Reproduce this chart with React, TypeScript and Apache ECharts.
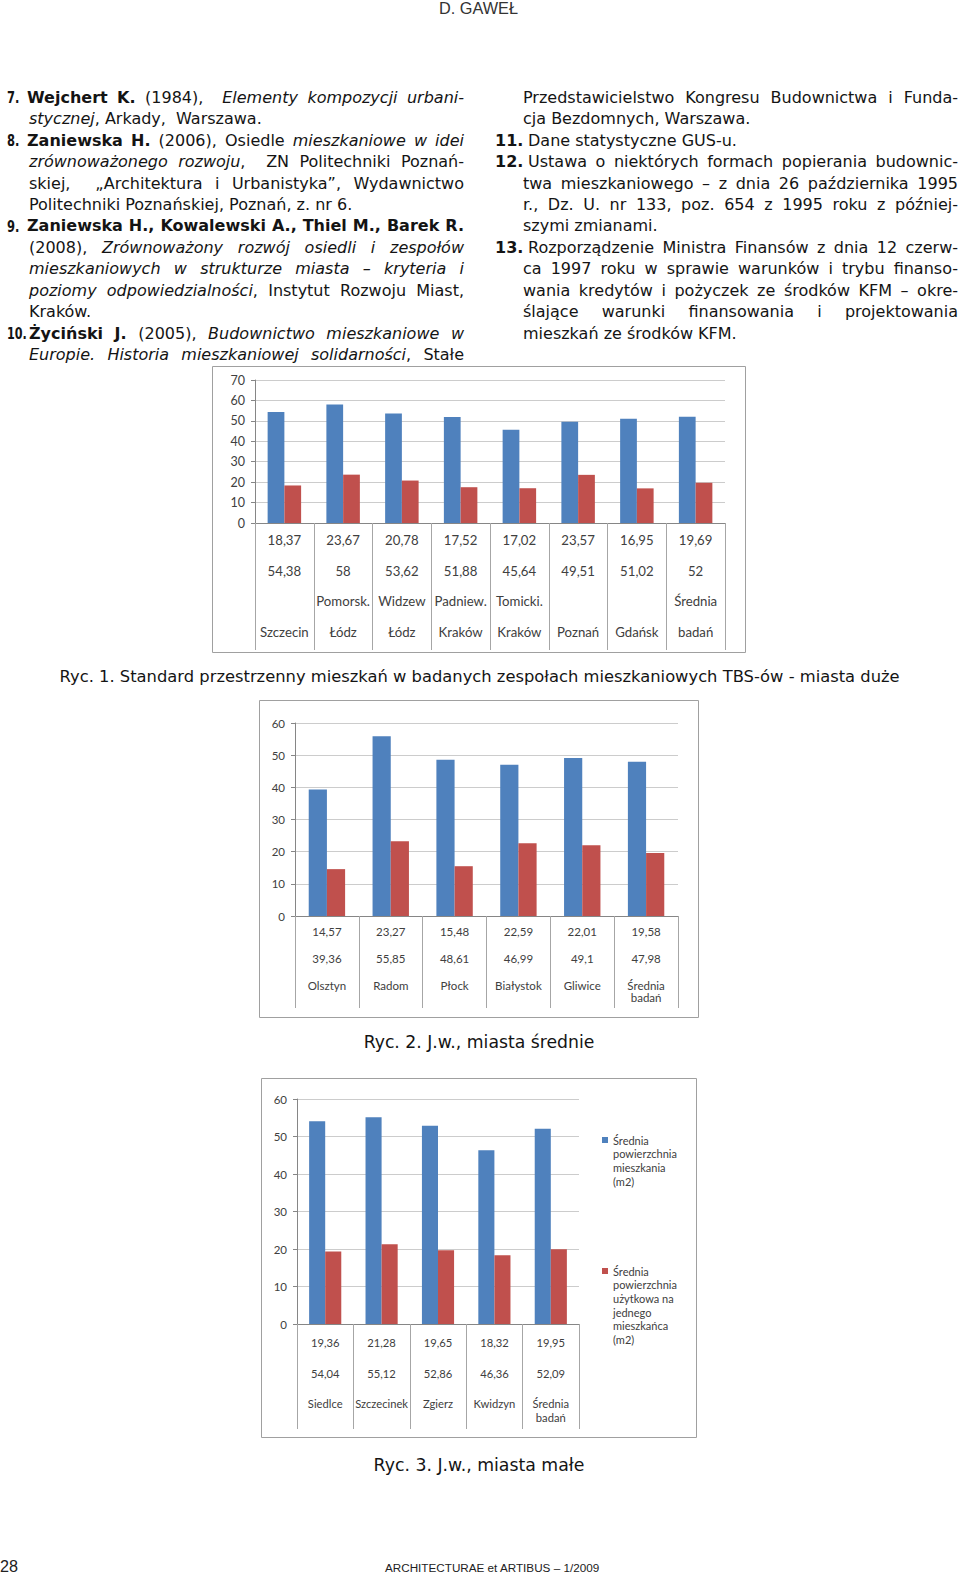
import React, { useEffect, useRef } from 'react';
import * as echarts from 'echarts';

// ---------------- chart data ----------------
const citiesLarge = ['Szczecin', 'Pomorsk.\nŁódz', 'Widzew\nŁódz', 'Padniew.\nKraków', 'Tomicki.\nKraków', 'Poznań', 'Gdańsk', 'Średnia\nbadań'];
const flatAreaLarge = [54.38, 58, 53.62, 51.88, 45.64, 49.51, 51.02, 52];
const perResidentLarge = [18.37, 23.67, 20.78, 17.52, 17.02, 23.57, 16.95, 19.69];

const citiesMedium = ['Olsztyn', 'Radom', 'Płock', 'Białystok', 'Gliwice', 'Średnia\nbadań'];
const flatAreaMedium = [39.36, 55.85, 48.61, 46.99, 49.1, 47.98];
const perResidentMedium = [14.57, 23.27, 15.48, 22.59, 22.01, 19.58];

const citiesSmall = ['Siedlce', 'Szczecinek', 'Zgierz', 'Kwidzyn', 'Średnia\nbadań'];
const flatAreaSmall = [54.04, 55.12, 52.86, 46.36, 52.09];
const perResidentSmall = [19.36, 21.28, 19.65, 18.32, 19.95];

const yMaxLarge = 70;
const yMaxMedium = 60;
const yMaxSmall = 60;
const yStep = 10;

const seriesNames = [
  'Średnia\npowierzchnia\nmieszkania\n(m2)',
  'Średnia\npowierzchnia\nużytkowa na\njednego\nmieszkańca\n(m2)',
];

const captionLarge = 'Ryc. 1. Standard przestrzenny mieszkań w badanych zespołach mieszkaniowych TBS-ów - miasta duże';
const captionMedium = 'Ryc. 2. J.w., miasta średnie';
const captionSmall = 'Ryc. 3. J.w., miasta małe';

// ---------------- page text ----------------
type St = 'n' | 'b' | 'i';
type Seg = [string, St];
type TLine = { x: number; right: number; row: number; j: boolean; segs: Seg[]; num?: [string, number, number] };

const LR = 464;
const RR = 958;
const textLines: TLine[] = [
  { row: 0, x: 27, right: LR, j: true, num: ['7.', 7, 0.72], segs: [['Wejchert K.', 'b'], [' (1984),  ', 'n'], ['Elementy kompozycji urbani-', 'i']] },
  { row: 1, x: 29, right: LR, j: false, segs: [['stycznej', 'i'], [', Arkady,  Warszawa.', 'n']] },
  { row: 2, x: 27, right: LR, j: true, num: ['8.', 7, 0.72], segs: [['Zaniewska H.', 'b'], [' (2006), Osiedle ', 'n'], ['mieszkaniowe w idei', 'i']] },
  { row: 3, x: 29, right: LR, j: true, segs: [['zrównoważonego rozwoju', 'i'], [',  ZN Politechniki Poznań-', 'n']] },
  { row: 4, x: 29, right: LR, j: true, segs: [['skiej,  „Architektura i Urbanistyka”, Wydawnictwo', 'n']] },
  { row: 5, x: 29, right: LR, j: false, segs: [['Politechniki Poznańskiej, Poznań, z. nr 6.', 'n']] },
  { row: 6, x: 27, right: LR, j: true, num: ['9.', 7, 0.72], segs: [['Zaniewska H., Kowalewski A., Thiel M., Barek R.', 'b']] },
  { row: 7, x: 29, right: LR, j: true, segs: [['(2008), ', 'n'], ['Zrównoważony rozwój osiedli i zespołów', 'i']] },
  { row: 8, x: 29, right: LR, j: true, segs: [['mieszkaniowych w strukturze miasta – kryteria i', 'i']] },
  { row: 9, x: 29, right: LR, j: true, segs: [['poziomy odpowiedzialności', 'i'], [', Instytut Rozwoju Miast,', 'n']] },
  { row: 10, x: 29, right: LR, j: false, segs: [['Kraków.', 'n']] },
  { row: 11, x: 29, right: LR, j: true, num: ['10.', 7, 0.7], segs: [['Życiński J.', 'b'], [' (2005), ', 'n'], ['Budownictwo mieszkaniowe w', 'i']] },
  { row: 12, x: 29, right: LR, j: true, segs: [['Europie. Historia mieszkaniowej solidarności', 'i'], [', Stałe', 'n']] },

  { row: 0, x: 523, right: RR, j: true, segs: [['Przedstawicielstwo Kongresu Budownictwa i Funda-', 'n']] },
  { row: 1, x: 523, right: RR, j: false, segs: [['cja Bezdomnych, Warszawa.', 'n']] },
  { row: 2, x: 528, right: RR, j: false, num: ['11.', 495, 1], segs: [['Dane statystyczne GUS-u.', 'n']] },
  { row: 3, x: 528, right: RR, j: true, num: ['12.', 495, 1], segs: [['Ustawa o niektórych formach popierania budownic-', 'n']] },
  { row: 4, x: 523, right: RR, j: true, segs: [['twa mieszkaniowego – z dnia 26 października 1995', 'n']] },
  { row: 5, x: 523, right: RR, j: true, segs: [['r., Dz. U. nr 133, poz. 654 z 1995 roku z później-', 'n']] },
  { row: 6, x: 523, right: RR, j: false, segs: [['szymi zmianami.', 'n']] },
  { row: 7, x: 528, right: RR, j: true, num: ['13.', 495, 1], segs: [['Rozporządzenie Ministra Finansów z dnia 12 czerw-', 'n']] },
  { row: 8, x: 523, right: RR, j: true, segs: [['ca 1997 roku w sprawie warunków i trybu finanso-', 'n']] },
  { row: 9, x: 523, right: RR, j: true, segs: [['wania kredytów i pożyczek ze środków KFM – okre-', 'n']] },
  { row: 10, x: 523, right: RR, j: true, segs: [['ślające warunki finansowania i projektowania', 'n']] },
  { row: 11, x: 523, right: RR, j: false, segs: [['mieszkań ze środków KFM.', 'n']] },
];

const BODY_FONT = '"DejaVu Sans", Verdana, sans-serif';
const NARROW_FONT = '"Liberation Sans Narrow", "Liberation Sans", Arial, sans-serif';
const CHART_FONT = 'Lato, "Open Sans", sans-serif';
const INK = '#141414';

const BLUE = '#4F81BD';
const RED = '#C0504D';
const AXIS = '#868686';
const GRIDC = '#cccccc';
const SEP = '#a6a6a6';
const LBL = '#404040';
const FRAME = '#a0a0a0';

const fmt = (v: number) => String(v).replace('.', ',');

function buildOption() {
  const ctx = document.createElement('canvas').getContext('2d') as CanvasRenderingContext2D;
  const measure = (t: string, st: St, size: number, fam = BODY_FONT) => {
    ctx.font = `${st === 'i' ? 'italic ' : ''}${st === 'b' ? 'bold ' : ''}${size}px ${fam}`;
    return ctx.measureText(t).width;
  };
  const fit = (t: string, w: number, fam: string, st: St = 'n') => (w / measure(t, st, 100, fam)) * 100;

  const graphics: any[] = [];

  // text lines (justified)
  textLines.forEach((ln, li) => {
    const y = 97.4 + 21.43 * ln.row;
    const items: { t: string; st: St; sp: number }[] = [];
    ln.segs.forEach(([txt, st]) => {
      txt.split(/( +)/).forEach((p) => {
        if (p === '') return;
        if (/^ +$/.test(p)) {
          if (items.length) items[items.length - 1].sp += p.length;
        } else items.push({ t: p, st, sp: 0 });
      });
    });
    if (items.length) items[items.length - 1].sp = 0;
    let size = 16;
    const avail = ln.right - ln.x;
    const calc = (s: number) => {
      const ww = items.reduce((a, it) => a + measure(it.t, it.st, s), 0);
      const ns = items.reduce((a, it) => a + it.sp, 0);
      return { ww, ns, sw: measure(' ', 'n', s) };
    };
    let m = calc(size);
    if (m.ww + m.ns * m.sw > avail) {
      size = size * avail / (m.ww + m.ns * m.sw);
      m = calc(size);
    }
    const gap = ln.j && m.ns > 0 ? (avail - m.ww) / m.ns : m.sw;
    const rich: any = {};
    let str = '';
    items.forEach((it, k) => {
      const key = `t${k}`;
      const r: any = {
        fontFamily: BODY_FONT,
        fontSize: size,
        fontWeight: it.st === 'b' ? 'bold' : 'normal',
        fontStyle: it.st === 'i' ? 'italic' : 'normal',
        fill: INK,
      };
      if (it.sp > 0) r.width = measure(it.t, it.st, size) + gap * it.sp;
      rich[key] = r;
      str += `{${key}|${it.t}${it.sp > 0 ? ' ' : ''}}`;
    });
    graphics.push({
      type: 'text', id: `line${li}`, x: ln.x, y, silent: true,
      style: { text: str, rich, fill: INK, fontFamily: BODY_FONT, fontSize: size, align: 'left', verticalAlign: 'middle', textAlign: 'left', textVerticalAlign: 'middle' },
    });
    if (ln.num) {
      graphics.push({
        type: 'text', id: `num${li}`, x: ln.num[1], y, scaleX: ln.num[2], silent: true,
        style: { text: ln.num[0], fill: INK, fontFamily: BODY_FONT, fontSize: 16, fontWeight: 'bold', align: 'left', verticalAlign: 'middle', textAlign: 'left', textVerticalAlign: 'middle' },
      });
    }
  });

  // captions
  const caps: [string, number, number, number][] = [
    [captionLarge, 479.6, 676, 841],
    [captionMedium, 479, 1042.4, 231],
    [captionSmall, 479, 1465, 211],
  ];
  caps.forEach(([t, cx, cy, w], k) => {
    graphics.push({
      type: 'text', id: `cap${k}`, x: cx, y: cy, silent: true,
      style: { text: t, fill: INK, fontFamily: BODY_FONT, fontSize: fit(t, w, BODY_FONT), align: 'center', verticalAlign: 'middle', textAlign: 'center', textVerticalAlign: 'middle' },
    });
  });

  // header & footer
  const header = 'D. GAWEŁ';
  graphics.push({
    type: 'text', id: 'hdr', x: 478.5, y: 7.5, silent: true,
    style: { text: header, fill: '#333', fontFamily: NARROW_FONT, fontSize: fit(header, 79, NARROW_FONT), align: 'center', verticalAlign: 'middle', textAlign: 'center', textVerticalAlign: 'middle' },
  });
  graphics.push({
    type: 'text', id: 'pg', x: 0, y: 1566, silent: true,
    style: { text: '28', fill: '#222', fontFamily: NARROW_FONT, fontSize: fit('28', 18, NARROW_FONT), align: 'left', verticalAlign: 'middle', textAlign: 'left', textVerticalAlign: 'middle' },
  });
  const journal = 'ARCHITECTURAE et ARTIBUS – 1/2009';
  graphics.push({
    type: 'text', id: 'jr', x: 385, y: 1567, silent: true,
    style: { text: journal, fill: '#222', fontFamily: NARROW_FONT, fontSize: fit(journal, 215, NARROW_FONT), align: 'left', verticalAlign: 'middle', textAlign: 'left', textVerticalAlign: 'middle' },
  });

  // chart frames
  const frames = [
    [212.5, 366.5, 533, 286],
    [259.5, 700.5, 439, 317],
    [261.5, 1078.5, 435, 359],
  ];
  frames.forEach(([x, y, w, h], k) => {
    graphics.push({ type: 'rect', id: `frame${k}`, silent: true, z: -10, shape: { x, y, width: w, height: h }, style: { fill: 'none', stroke: FRAME, lineWidth: 1 } });
  });

  const yAxis = (gi: number, max: number, fs: number) => ({
    type: 'value', gridIndex: gi, min: 0, max, interval: yStep,
    axisLine: { show: true, lineStyle: { color: AXIS, width: 1 } },
    axisTick: { show: true, inside: false, length: 4, lineStyle: { color: AXIS } },
    axisLabel: { show: true, margin: 10, fontFamily: CHART_FONT, fontSize: fs, color: LBL },
    splitLine: { show: true, lineStyle: { color: GRIDC, width: 1 } },
  });

  const xBase = (gi: number, data: string[], tickLen: number) => ({
    type: 'category', gridIndex: gi, data,
    axisLine: { show: true, lineStyle: { color: AXIS, width: 1 } },
    axisTick: { show: true, interval: 0, alignWithLabel: false, length: tickLen, lineStyle: { color: SEP } },
    splitLine: { show: false },
  });

  const xLarge = {
    ...xBase(0, citiesLarge, 127),
    axisLabel: {
      interval: 0, margin: 1.6, hideOverlap: false,
      formatter: (val: string, i: number) => {
        const names = val.split('\n');
        const nl = names.length === 1 ? ['\u00a0', names[0]] : names;
        return [fmt(perResidentLarge[i]), fmt(flatAreaLarge[i]), ...nl].map((s) => `{v|${s}}`).join('\n');
      },
      rich: { v: { fontFamily: CHART_FONT, fontSize: 13.2, lineHeight: 30.7, color: LBL } },
    },
  };

  const tableLabel = (pr: number[], fa: number[], fs: number, vlh: number, nlh: number, margin: number) => ({
    interval: 0, margin, hideOverlap: false,
    formatter: (val: string, i: number) =>
      `{v|${fmt(pr[i])}}\n{v|${fmt(fa[i])}}\n{s|\u00a0}\n` + val.split('\n').map((s) => `{n|${s}}`).join('\n'),
    rich: {
      v: { fontFamily: CHART_FONT, fontSize: fs, lineHeight: vlh, color: LBL },
      s: { fontFamily: CHART_FONT, fontSize: 4, lineHeight: 7.5, color: LBL },
      n: { fontFamily: CHART_FONT, fontSize: fs, lineHeight: nlh, color: LBL },
    },
  });

  const xMedium = { ...xBase(1, citiesMedium, 92), axisLabel: tableLabel(perResidentMedium, flatAreaMedium, 11.5, 27, 12, 1.5) };
  const xSmall = { ...xBase(2, citiesSmall, 105), axisLabel: tableLabel(perResidentSmall, flatAreaSmall, 11.2, 31, 14, 2.5) };

  const bar = (name: string, gi: number, data: number[], color: string) => ({
    type: 'bar', name, xAxisIndex: gi, yAxisIndex: gi, data,
    barGap: '0%', barCategoryGap: '43%',
    itemStyle: { color, borderWidth: 0 },
    emphasis: { disabled: true },
    silent: true,
  });

  const iconPath = (h: number) => `path://M0,0H6V6H0Z M5.99,${(h - 0.01).toFixed(2)}H6V${h.toFixed(2)}H5.99Z`;
  const LH = 13.7;
  const legendFor = (name: string, firstLineY: number) => {
    const n = name.split('\n').length;
    const ih = n * LH - LH + 6;
    return {
      show: true, orient: 'vertical', left: 602, top: firstLineY - LH / 2, padding: 0,
      itemWidth: 6, itemHeight: ih, itemGap: 0, selectedMode: false,
      data: [{ name, icon: iconPath(ih) }],
      textStyle: { fontFamily: CHART_FONT, fontSize: 11, color: LBL, lineHeight: LH },
    };
  };

  return {
    animation: false,
    backgroundColor: '#ffffff',
    textStyle: { fontFamily: CHART_FONT },
    tooltip: { show: false },
    grid: [
      { left: 255, top: 380, width: 470, height: 143, containLabel: false },
      { left: 295, top: 723, width: 383, height: 193, containLabel: false },
      { left: 297, top: 1099, width: 282, height: 225, containLabel: false },
    ],
    xAxis: [xLarge, xMedium, xSmall],
    yAxis: [yAxis(0, yMaxLarge, 12.5), yAxis(1, yMaxMedium, 11.5), yAxis(2, yMaxSmall, 11.5)],
    legend: [legendFor(seriesNames[0], 1140), legendFor(seriesNames[1], 1271)],
    series: [
      bar(seriesNames[0], 0, flatAreaLarge, BLUE),
      bar(seriesNames[1], 0, perResidentLarge, RED),
      bar(seriesNames[0], 1, flatAreaMedium, BLUE),
      bar(seriesNames[1], 1, perResidentMedium, RED),
      bar(seriesNames[0], 2, flatAreaSmall, BLUE),
      bar(seriesNames[1], 2, perResidentSmall, RED),
    ],
    graphic: { elements: graphics },
  };
}

export default function App() {
  const ref = useRef<HTMLDivElement>(null);
  useEffect(() => {
    document.body.style.margin = '0';
    const el = ref.current as HTMLDivElement;
    const chart = echarts.init(el, null, { renderer: 'svg', width: 960, height: 1574 });
    chart.setOption(buildOption() as any);
    return () => {
      chart.dispose();
    };
  }, []);
  return (
    <div
      ref={ref}
      style={{ position: 'absolute', left: 0, top: 0, width: 960, height: 1574, background: '#ffffff', overflow: 'hidden' }}
    />
  );
}
